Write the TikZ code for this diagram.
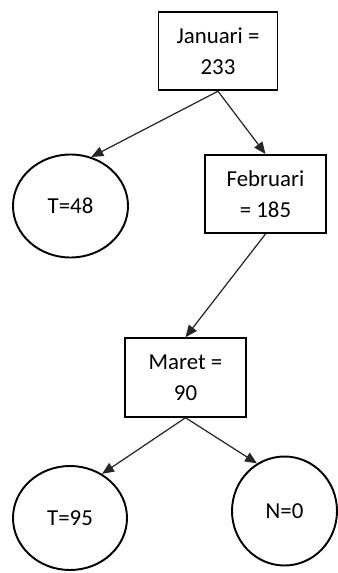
\documentclass[tikz,border=0pt]{standalone}
\usepackage{fontspec}
\setmainfont{Carlito}
\usetikzlibrary{arrows.meta, shapes.geometric}

\begin{document}
\begin{tikzpicture}[
    >={Triangle[length=0.24cm, width=0.2cm]},
    box/.style={draw, line width=1.1pt, minimum width=2.38cm, minimum height=1.57cm,
                align=center, font=\fontsize{13}{17.6}\selectfont},
    leaf/.style={draw, ellipse, line width=1.1pt, inner sep=0pt,
                 font=\fontsize{13}{15}\selectfont},
    edge/.style={->, line width=0.7pt, draw=black!85}
  ]
  \useasboundingbox (0,0) rectangle (6.74,-11.46);

  \node[box] (jan) at (4.36,-1.02) {Januari =\\233};
  \node[box, minimum width=2.42cm, minimum height=1.56cm] (feb) at (5.31,-3.88) {Februari\\= 185};
  \node[box, minimum width=2.42cm] (mar) at (3.71,-7.55) {Maret =\\90};

  \node[leaf, minimum width=2.3cm, minimum height=2.06cm] (t48) at (1.41,-4.12) {T=48};
  \node[leaf, minimum width=2.28cm, minimum height=2.08cm] (t95) at (1.40,-10.36) {T=95};
  \node[leaf, minimum width=2.1cm, minimum height=2.18cm] (n0) at (5.69,-10.22) {N=0};

  \draw[edge] (jan.south) -- (t48.67);
  \draw[edge] (jan.south) -- (feb.north);
  \draw[edge] (feb.south) -- (mar.north);
  \draw[edge] (mar.south) -- (t95.54);
  \draw[edge] (mar.south) -- (n0.120);
\end{tikzpicture}
\end{document}
